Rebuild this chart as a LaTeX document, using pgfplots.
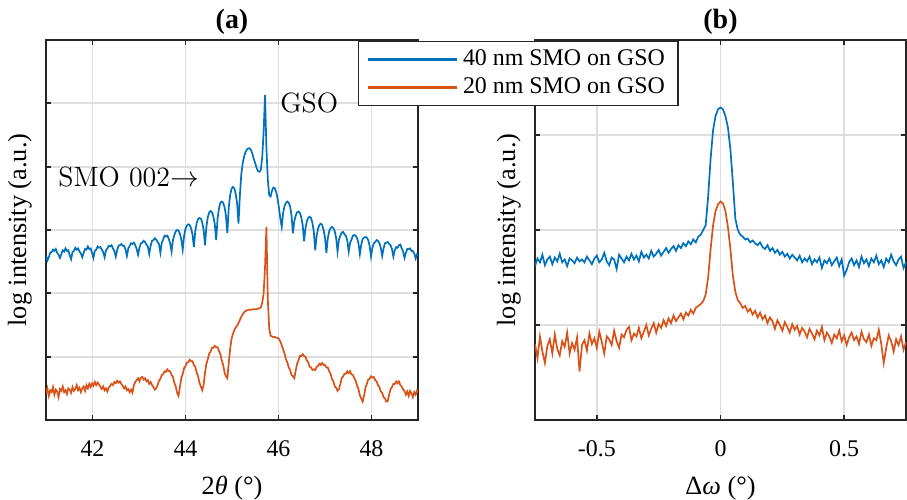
\documentclass[border=0pt]{standalone}
\usepackage{fontspec}
\setmainfont{Liberation Serif}
\usepackage{pgfplots}
\pgfplotsset{compat=1.18}

\definecolor{mblue}{rgb}{0,0.447,0.741}
\definecolor{morange}{rgb}{0.85,0.325,0.098}
\definecolor{gridgray}{rgb}{0.87,0.87,0.87}
\definecolor{axgray}{rgb}{0.15,0.15,0.15}

\pgfplotsset{
  panel/.style={
    scale only axis, height=190bp,
    ymin=0, yticklabels={},
    tick pos=both, tick align=inside,
    major tick length=2.5bp,
    axis line style={axgray, line width=1.1bp},
    every tick/.style={axgray, line width=0.9bp},
    grid=major, major grid style={gridgray, line width=0.9bp},
    tick label style={font=\fontsize{12}{14}\selectfont},
    xticklabel style={anchor=base, yshift=-18.3bp},
    label style={font=\fontsize{13.2}{15}\selectfont},
    xlabel style={at={([yshift=-37bp]axis description cs:0.5,0)}, anchor=base},
    ylabel style={at={([xshift=-10bp]axis description cs:0,0.5)}, anchor=base},
    title style={at={(axis description cs:0.5,1)}, anchor=base,
      font=\fontsize{14}{16}\selectfont\bfseries},
    every axis plot/.append style={line width=0.85bp},
  },
}

\begin{document}
\begin{tikzpicture}
% (a) 2theta-omega scans, step 0.03 deg from 41
\begin{axis}[panel, width=186bp,
  xmin=41, xmax=49, ymax=6,
  xtick={42,44,46,48}, xticklabels={42,44,46,48},
  ytick={1,2,3,4,5},
  xlabel={2\textit{θ} (°)}, ylabel={log intensity (a.u.)},
  title={(a)}]
\addplot[draw=mblue] table[header=false, row sep=\\, y index=0, x expr=41+0.03*\coordindex] {
2.60\\2.52\\2.57\\2.64\\2.65\\2.69\\2.67\\2.70\\2.64\\2.61\\
2.56\\2.62\\2.68\\2.66\\2.71\\2.67\\2.68\\2.60\\2.54\\2.65\\
2.67\\2.72\\2.69\\2.71\\2.66\\2.63\\2.57\\2.64\\2.70\\2.69\\
2.74\\2.70\\2.71\\2.64\\2.56\\2.67\\2.69\\2.74\\2.72\\2.73\\
2.69\\2.65\\2.57\\2.68\\2.71\\2.75\\2.74\\2.76\\2.71\\2.67\\
2.58\\2.68\\2.75\\2.76\\2.78\\2.75\\2.75\\2.69\\2.59\\2.71\\
2.75\\2.79\\2.78\\2.80\\2.76\\2.70\\2.61\\2.72\\2.79\\2.80\\
2.83\\2.81\\2.77\\2.74\\2.62\\2.75\\2.83\\2.84\\2.87\\2.85\\
2.81\\2.78\\2.64\\2.80\\2.85\\2.91\\2.90\\2.91\\2.86\\2.79\\
2.66\\2.84\\2.92\\2.98\\3.00\\2.99\\2.94\\2.85\\2.69\\2.91\\
3.02\\3.07\\3.09\\3.08\\3.03\\2.93\\2.73\\2.98\\3.11\\3.17\\
3.19\\3.18\\3.12\\3.00\\2.76\\3.06\\3.20\\3.28\\3.30\\3.28\\
3.21\\3.09\\2.84\\3.18\\3.34\\3.43\\3.45\\3.43\\3.36\\3.23\\
2.95\\3.35\\3.55\\3.65\\3.68\\3.66\\3.57\\3.42\\3.10\\3.55\\
3.88\\4.05\\4.16\\4.23\\4.27\\4.29\\4.29\\4.26\\4.20\\4.12\\
4.05\\3.98\\3.93\\3.92\\3.95\\4.15\\4.55\\5.13\\4.30\\3.80\\
3.55\\3.53\\3.62\\3.67\\3.66\\3.60\\3.50\\3.35\\3.18\\3.05\\
3.27\\3.38\\3.43\\3.45\\3.43\\3.37\\3.23\\2.95\\3.14\\3.23\\
3.28\\3.29\\3.27\\3.20\\3.08\\2.82\\3.03\\3.14\\3.19\\3.21\\
3.19\\3.11\\2.97\\2.68\\2.91\\3.02\\3.08\\3.10\\3.08\\3.00\\
2.88\\2.64\\2.87\\2.98\\3.03\\3.05\\3.03\\2.98\\2.87\\2.66\\
2.85\\2.91\\2.96\\2.97\\2.93\\2.91\\2.83\\2.66\\2.80\\2.85\\
2.91\\2.92\\2.91\\2.87\\2.79\\2.62\\2.77\\2.86\\2.88\\2.89\\
2.88\\2.84\\2.75\\2.58\\2.72\\2.79\\2.81\\2.84\\2.83\\2.79\\
2.72\\2.59\\2.71\\2.79\\2.80\\2.81\\2.78\\2.76\\2.70\\2.58\\
2.68\\2.73\\2.72\\2.76\\2.77\\2.71\\2.66\\2.56\\2.64\\2.70\\
2.70\\2.71\\2.67\\2.67\\2.63\\2.55\\2.62\\2.60\\
};
\addplot[draw=morange] table[header=false, row sep=\\, y index=0, x expr=41+0.03*\coordindex] {
0.42\\0.50\\0.38\\0.47\\0.44\\0.52\\0.40\\0.48\\0.45\\0.36\\
0.49\\0.46\\0.53\\0.44\\0.47\\0.41\\0.50\\0.48\\0.43\\0.52\\
0.46\\0.49\\0.55\\0.47\\0.51\\0.44\\0.50\\0.53\\0.46\\0.55\\
0.50\\0.57\\0.52\\0.58\\0.54\\0.60\\0.55\\0.59\\0.56\\0.52\\
0.49\\0.53\\0.47\\0.50\\0.45\\0.51\\0.54\\0.57\\0.55\\0.60\\
0.58\\0.62\\0.59\\0.61\\0.57\\0.54\\0.50\\0.53\\0.47\\0.49\\
0.44\\0.48\\0.43\\0.55\\0.60\\0.63\\0.66\\0.61\\0.67\\0.68\\
0.64\\0.66\\0.61\\0.63\\0.57\\0.60\\0.55\\0.52\\0.48\\0.50\\
0.55\\0.62\\0.65\\0.71\\0.72\\0.77\\0.76\\0.80\\0.77\\0.77\\
0.71\\0.68\\0.59\\0.53\\0.43\\0.38\\0.52\\0.66\\0.73\\0.82\\
0.85\\0.91\\0.91\\0.95\\0.93\\0.93\\0.87\\0.84\\0.75\\0.69\\
0.59\\0.53\\0.47\\0.56\\0.75\\0.89\\0.96\\1.05\\1.08\\1.14\\
1.14\\1.17\\1.15\\1.15\\1.09\\1.04\\0.94\\0.87\\0.75\\0.69\\
0.66\\0.90\\1.12\\1.28\\1.36\\1.42\\1.46\\1.49\\1.53\\1.58\\
1.63\\1.67\\1.70\\1.72\\1.73\\1.74\\1.74\\1.74\\1.75\\1.75\\
1.75\\1.75\\1.76\\1.76\\1.78\\1.85\\2.00\\2.40\\3.05\\1.90\\
1.45\\1.33\\1.32\\1.31\\1.31\\1.30\\1.30\\1.28\\1.24\\1.18\\
1.11\\1.05\\0.96\\0.91\\0.83\\0.79\\0.71\\0.69\\0.66\\0.78\\
0.89\\0.94\\1.01\\1.01\\1.04\\1.01\\1.00\\0.94\\0.91\\0.84\\
0.83\\0.79\\0.80\\0.79\\0.84\\0.85\\0.89\\0.87\\0.90\\0.87\\
0.87\\0.83\\0.83\\0.77\\0.73\\0.65\\0.61\\0.53\\0.51\\0.46\\
0.49\\0.57\\0.66\\0.69\\0.73\\0.73\\0.77\\0.74\\0.77\\0.72\\
0.71\\0.66\\0.62\\0.54\\0.49\\0.39\\0.34\\0.29\\0.38\\0.51\\
0.57\\0.64\\0.65\\0.69\\0.67\\0.68\\0.63\\0.61\\0.55\\0.52\\
0.45\\0.43\\0.36\\0.34\\0.29\\0.30\\0.40\\0.49\\0.52\\0.57\\
0.57\\0.61\\0.58\\0.61\\0.55\\0.53\\0.48\\0.46\\0.40\\0.45\\
0.38\\0.46\\0.42\\0.36\\0.44\\0.40\\0.47\\0.43\\
};
\node[anchor=west, inner sep=0pt, font=\fontsize{14}{16}\fontfamily{lmr}\selectfont]
  at (axis cs:41.26,3.83) {SMO 002$\rightarrow$};
\node[anchor=west, inner sep=0pt, font=\fontsize{14}{16}\fontfamily{lmr}\selectfont]
  at (axis cs:46.03,5.01) {GSO};
\end{axis}

% (b) rocking curves, step 0.01 deg from -0.75
\begin{axis}[panel, width=185.5bp, at={(244.5bp,0bp)}, anchor=south west,
  xmin=-0.75, xmax=0.75, ymax=4,
  xtick={-0.5,0,0.5}, xticklabels={-0.5,0,0.5},
  ytick={1,2,3},
  xlabel={Δ\textit{ω} (°)}, ylabel={log intensity (a.u.)},
  title={(b)},
  legend style={at={([xshift=-88.5bp,yshift=-0.5bp]axis description cs:0,1)},
    anchor=north west, draw=axgray, line width=0.6bp, fill=white,
    font=\fontsize{12}{14}\selectfont, inner xsep=4bp, inner ysep=2bp,
    row sep=0bp,
    nodes={inner xsep=2.5bp, inner ysep=1.5bp, text height=8.5bp, text depth=2.5bp}},
  legend cell align=left]
\addplot[draw=mblue, legend image code/.code={
    \draw[draw=mblue, line width=1.2bp] (0bp,0bp) -- (44.5bp,0bp);}]
  table[header=false, row sep=\\, y index=0, x expr=-0.75+0.01*\coordindex] {
1.62\\1.70\\1.66\\1.74\\1.63\\1.69\\1.72\\1.64\\1.71\\1.67\\
1.75\\1.66\\1.69\\1.62\\1.70\\1.68\\1.65\\1.71\\1.67\\1.69\\
1.66\\1.72\\1.68\\1.64\\1.70\\1.73\\1.66\\1.69\\1.76\\1.67\\
1.63\\1.71\\1.69\\1.59\\1.74\\1.70\\1.66\\1.72\\1.68\\1.75\\
1.69\\1.73\\1.67\\1.77\\1.71\\1.74\\1.70\\1.78\\1.72\\1.75\\
1.79\\1.73\\1.77\\1.81\\1.76\\1.80\\1.83\\1.78\\1.84\\1.81\\
1.86\\1.83\\1.88\\1.85\\1.90\\1.87\\1.93\\1.95\\2.00\\2.05\\
2.35\\2.75\\3.05\\3.20\\3.27\\3.29\\3.27\\3.20\\3.08\\2.85\\
2.50\\2.12\\2.00\\1.95\\1.93\\1.90\\1.91\\1.87\\1.89\\1.86\\
1.84\\1.87\\1.82\\1.80\\1.84\\1.78\\1.81\\1.76\\1.79\\1.74\\
1.77\\1.72\\1.75\\1.70\\1.74\\1.71\\1.68\\1.73\\1.66\\1.70\\
1.67\\1.72\\1.64\\1.69\\1.66\\1.71\\1.60\\1.68\\1.65\\1.70\\
1.63\\1.67\\1.71\\1.62\\1.69\\1.52\\1.58\\1.66\\1.70\\1.63\\
1.68\\1.61\\1.72\\1.65\\1.69\\1.62\\1.70\\1.66\\1.73\\1.64\\
1.68\\1.61\\1.70\\1.66\\1.74\\1.67\\1.63\\1.69\\1.72\\1.60\\1.66\\
};
\addlegendentry{40 nm SMO on GSO}
\addplot[draw=morange, legend image code/.code={
    \draw[draw=morange, line width=1.2bp] (0bp,0bp) -- (44.5bp,0bp);}]
  table[header=false, row sep=\\, y index=0, x expr=-0.75+0.01*\coordindex] {
0.80\\0.65\\0.88\\0.72\\0.60\\0.78\\0.85\\0.70\\0.90\\0.75\\
0.68\\0.83\\0.77\\0.92\\0.70\\0.81\\0.74\\0.87\\0.51\\0.79\\
0.84\\0.73\\0.91\\0.80\\0.86\\0.76\\0.93\\0.82\\0.70\\0.88\\
0.85\\0.79\\0.94\\0.83\\0.76\\0.90\\0.87\\0.95\\0.98\\0.84\\
0.91\\0.88\\0.97\\0.86\\0.93\\1.00\\0.89\\0.96\\1.02\\0.92\\
1.01\\0.97\\1.05\\0.99\\1.07\\1.02\\1.10\\1.04\\1.08\\1.12\\
1.06\\1.13\\1.10\\1.16\\1.12\\1.18\\1.20\\1.22\\1.25\\1.32\\
1.50\\1.80\\2.05\\2.20\\2.27\\2.30\\2.28\\2.20\\2.03\\1.80\\
1.52\\1.35\\1.26\\1.23\\1.18\\1.20\\1.14\\1.17\\1.11\\1.15\\
1.08\\1.13\\1.06\\1.10\\1.02\\1.08\\1.04\\0.96\\1.05\\1.00\\
0.94\\1.03\\0.98\\0.92\\1.01\\0.95\\0.99\\0.90\\0.97\\0.93\\
0.87\\0.96\\0.91\\0.85\\0.94\\0.89\\0.98\\0.84\\0.92\\0.88\\
0.81\\0.90\\0.86\\0.94\\0.83\\0.89\\0.79\\0.87\\0.92\\0.84\\
0.88\\0.80\\0.93\\0.85\\0.82\\0.90\\0.78\\0.86\\0.84\\0.95\\
0.80\\0.60\\0.76\\0.89\\0.83\\0.72\\0.85\\0.79\\0.88\\0.74\\0.82\\
};
\addlegendentry{20 nm SMO on GSO}
\end{axis}
\pgfresetboundingbox
\path (-23bp,-40bp) rectangle (430.5bp,210bp);
\end{tikzpicture}
\end{document}
